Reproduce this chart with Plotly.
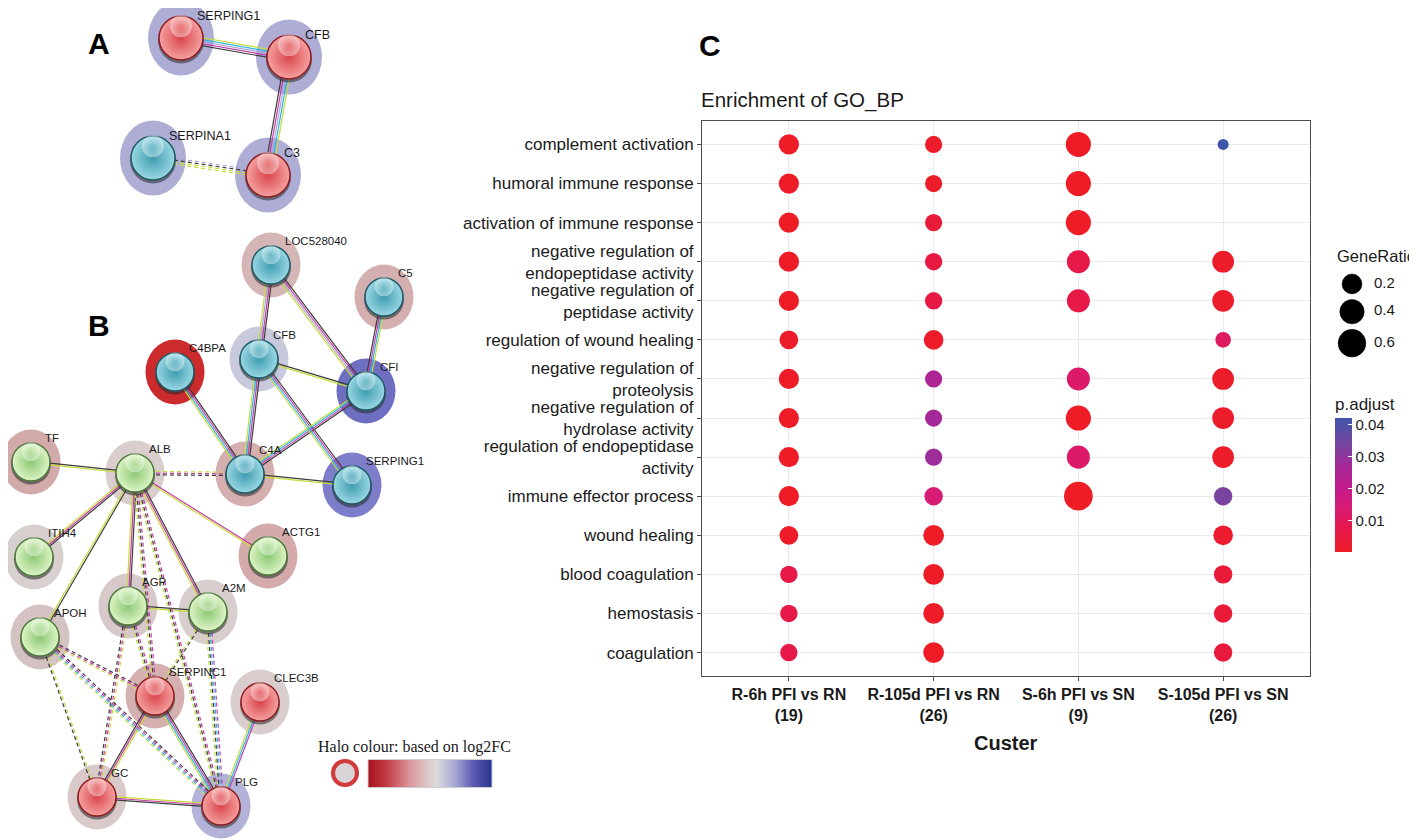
import numpy as np
import plotly.graph_objects as go

W, H = 1417, 840          # browser window
OFF = 8                   # default page margin around the plot div
FW, FH = W - OFF, H - OFF  # figure size
FONT = "Liberation Sans, Arial, sans-serif"


def pxx(p):
    return (p - OFF) / FW


def pxy(p):
    return 1 - (p - OFF) / FH


# ---------------- Panel C data: GO_BP enrichment ----------------
terms = ["complement activation", "humoral immune response", "activation of immune response",
         "negative regulation of<br>endopeptidase activity", "negative regulation of<br>peptidase activity",
         "regulation of wound healing", "negative regulation of<br>proteolysis",
         "negative regulation of<br>hydrolase activity", "regulation of endopeptidase<br>activity",
         "immune effector process", "wound healing", "blood coagulation", "hemostasis", "coagulation"]
clusters = ["R-6h PFI vs RN<br>(19)", "R-105d PFI vs RN<br>(26)", "S-6h PFI vs SN<br>(9)", "S-105d PFI vs SN<br>(26)"]

generatio_r6h = [0.21, 0.21, 0.21, 0.21, 0.21, 0.16, 0.21, 0.21, 0.21, 0.21, 0.16, 0.12, 0.12, 0.12]
generatio_r105d = [0.115, 0.115, 0.115, 0.12, 0.12, 0.19, 0.115, 0.115, 0.115, 0.15, 0.23, 0.23, 0.23, 0.23]
generatio_s6h = [0.44, 0.44, 0.44, 0.33, 0.33, None, 0.33, 0.44, 0.33, 0.67, None, None, None, None]
generatio_s105d = [0.038, None, None, 0.27, 0.27, 0.08, 0.27, 0.27, 0.27, 0.15, 0.19, 0.15, 0.15, 0.15]

padj_r6h = [0.0003, 0.0003, 0.0003, 0.0005, 0.0005, 0.001, 0.0005, 0.0005, 0.0005, 0.0003, 0.001, 0.007, 0.007, 0.007]
padj_r105d = [0.001, 0.001, 0.004, 0.006, 0.006, 0.001, 0.025, 0.027, 0.028, 0.014, 0.0005, 0.0005, 0.0005, 0.0005]
padj_s6h = [0.0002, 0.0002, 0.0002, 0.007, 0.007, None, 0.012, 0.0005, 0.012, 0.0001, None, None, None, None]
padj_s105d = [0.042, None, None, 0.001, 0.001, 0.011, 0.001, 0.001, 0.001, 0.033, 0.002, 0.004, 0.004, 0.005]

legend_ratios = [0.2, 0.4, 0.6]
padj_ticks = [0.01, 0.02, 0.03, 0.04]

# ---------------- Panels A/B data: STRING networks (layout positions of nodes) ----------------
a_nodes = ["SERPING1", "CFB", "SERPINA1", "C3"]
a_x = [181, 289, 153, 268]
a_y = [38, 57, 158, 175]
a_ball = ["red", "red", "teal", "red"]
a_halo = ["#ADADD5", "#ADADD5", "#ADADD5", "#ADADD5"]

b_nodes = ["LOC528040", "C5", "CFB", "C4BPA", "CFI", "TF", "ALB", "C4A", "SERPING1", "ITIH4",
           "ACTG1", "AGP", "A2M", "APOH", "SERPINC1", "CLEC3B", "GC", "PLG"]
b_x = [271, 384, 259, 175, 366, 31, 135, 245, 352, 34, 268, 128, 208, 40, 155, 260, 97, 221]
b_y = [265, 297, 359, 372, 391, 462, 473, 474, 485, 557, 556, 606, 612, 637, 696, 702, 797, 806]
b_ball = ["teal", "teal", "teal", "teal", "teal", "green", "green", "teal", "teal", "green",
          "green", "green", "green", "green", "red", "red", "red", "red"]
b_halo = ["#D5B6B6", "#D3AFAF", "#C9C9DD", "#CC2B2E", "#6F6FC2", "#D2AAAA", "#D9CDCD", "#D5AFAF",
          "#7D7DC9", "#D8CFCF", "#D4AAAA", "#D7C9C9", "#D8CECE", "#D5C3C3", "#D5B0B0", "#D9CDCD",
          "#D9C9C9", "#B3B3D9"]

Y, C, M, K, L = "#C5DC3A", "#29B5E8", "#C83AA8", "#3C3C3C", "#A6A6D8"
a_edges = [("SERPING1", "CFB", [Y, C, L, M, K], False),
           ("CFB", "C3", [Y, C, L, M, K], False),
           ("SERPINA1", "C3", [L, K, Y, Y], True)]
b_edges = [("LOC528040", "CFB", [K, M, L, Y], False),
           ("LOC528040", "CFI", [K, M, L, Y], False),
           ("C5", "CFI", [Y, C, M, K], False),
           ("CFB", "CFI", [K, Y], False),
           ("CFB", "C4A", [K, M, C, Y], False),
           ("CFB", "SERPING1", [K, M, C, Y], False),
           ("C4BPA", "C4A", [K, M, C, Y], False),
           ("CFI", "C4A", [K, M, C, Y], False),
           ("C4A", "SERPING1", [K, Y], False),
           ("TF", "ALB", [K, Y], False),
           ("ALB", "C4A", [Y, M, K], True),
           ("ALB", "ITIH4", [K, M, Y], False),
           ("ALB", "ACTG1", [M, Y], False),
           ("ALB", "APOH", [K, Y], False),
           ("ALB", "AGP", [K, M, Y], False),
           ("ALB", "A2M", [K, M, Y], False),
           ("ALB", "SERPINC1", [M, K, Y], True),
           ("ALB", "PLG", [M, K, Y], True),
           ("AGP", "A2M", [K, Y], False),
           ("AGP", "SERPINC1", [M, K, Y], True),
           ("AGP", "GC", [Y, M, K], True),
           ("A2M", "SERPINC1", [K, Y], True),
           ("A2M", "PLG", [M, C, K, Y], True),
           ("APOH", "SERPINC1", [K, M, Y], True),
           ("APOH", "PLG", [K, M, C, Y], True),
           ("APOH", "GC", [Y, K], True),
           ("SERPINC1", "GC", [Y, M, K], False),
           ("SERPINC1", "PLG", [K, M, C, Y], False),
           ("CLEC3B", "PLG", [M, C, Y], False),
           ("GC", "PLG", [Y, M, K], False)]

halo_scale = [[0, "#A80F1E"], [0.15, "#C23A45"], [0.35, "#DC9CA0"], [0.55, "#DCDCDC"],
              [0.7, "#A9A9D6"], [0.85, "#5A5AB2"], [1, "#27348B"]]
padj_scale = [[0, "#EE1C25"], [0.17, "#E6194A"], [0.33, "#D81B75"], [0.48, "#C21A8D"],
              [0.64, "#A52898"], [0.79, "#7A43A0"], [1, "#3F55A8"]]

ball_style = {
    "red": dict(center="#F5A0A0", edge="#D9454B", line="#8E1E22"),
    "teal": dict(center="#9AD7E3", edge="#3D9CB0", line="#1F5B66"),
    "green": dict(center="#DDF4C6", edge="#8DC874", line="#4E7A3D"),
}

fig = go.Figure()

# ---------------- Panel C dot plot ----------------
ratios = [generatio_r6h, generatio_r105d, generatio_s6h, generatio_s105d]
padjs = [padj_r6h, padj_r105d, padj_s6h, padj_s105d]
xs, ys, gr, pa = [], [], [], []
for ci in range(len(clusters)):
    for ti in range(len(terms)):
        if ratios[ci][ti] is not None:
            xs.append(ci); ys.append(ti); gr.append(ratios[ci][ti]); pa.append(padjs[ci][ti])
vmin, vmax = min(gr), max(gr)
DMIN, DMAX = 11.0, 28.7


def size_of(v):
    return DMIN + (DMAX - DMIN) * np.sqrt((np.asarray(v, float) - vmin) / (vmax - vmin))


fig.add_trace(go.Scatter(
    x=xs, y=ys, mode="markers", xaxis="x", yaxis="y", hoverinfo="skip", showlegend=False,
    marker=dict(size=size_of(gr), color=pa, colorscale=padj_scale, cmin=min(pa), cmax=max(pa),
                line=dict(width=0), opacity=1,
                colorbar=dict(title=dict(text="p.adjust", side="top", font=dict(size=17, family=FONT, color="#1a1a1a")),
                              x=pxx(1335), xanchor="left", xpad=0, y=pxy(552), yanchor="bottom", ypad=0,
                              len=158, lenmode="pixels", thickness=17, outlinewidth=0,
                              tickvals=padj_ticks, ticks="inside", ticklen=4, tickcolor="white",
                              tickfont=dict(size=15, family=FONT, color="#1a1a1a"))),
))


# ---------------- Networks (overlay axes in page-pixel units) ----------------
def add_network(names, nx, ny, balls, halos, edges, halo_w, halo_h, ball_d, spacing, label_size, label_dx, label_dy):
    pos = {n: (x, y) for n, x, y in zip(names, nx, ny)}
    shapes = []
    for x, y, hc in zip(nx, ny, halos):
        shapes.append(dict(type="circle", xref="x2", yref="y2", layer="below",
                           x0=x - halo_w / 2, x1=x + halo_w / 2, y0=y - halo_h / 2, y1=y + halo_h / 2,
                           fillcolor=hc, line=dict(width=0)))
    groups = {}
    for a, b, cols, dashed in edges:
        (x0, y0), (x1, y1) = pos[a], pos[b]
        dx, dy = x1 - x0, y1 - y0
        ln = np.hypot(dx, dy)
        px, py = -dy / ln, dx / ln
        n = len(cols)
        for i, col in enumerate(cols):
            off = (i - (n - 1) / 2) * spacing
            g = groups.setdefault((col, dashed), ([], []))
            g[0].extend([x0 + px * off, x1 + px * off, None])
            g[1].extend([y0 + py * off, y1 + py * off, None])
    for (col, dashed), (gx, gy) in groups.items():
        fig.add_trace(go.Scatter(x=gx, y=gy, mode="lines", xaxis="x2", yaxis="y2", hoverinfo="skip",
                                 showlegend=False,
                                 line=dict(color=col, width=1.2, dash="4px,3px" if dashed else "solid")))
    fig.add_trace(go.Scatter(x=nx, y=[y + 2.5 for y in ny], mode="markers", xaxis="x2", yaxis="y2",
                             hoverinfo="skip", showlegend=False,
                             marker=dict(size=ball_d + 2, color="rgba(40,40,40,0.55)", line=dict(width=0))))
    for kind in ["red", "teal", "green"]:
        idx = [i for i, b in enumerate(balls) if b == kind]
        if not idx:
            continue
        st = ball_style[kind]
        fig.add_trace(go.Scatter(
            x=[nx[i] for i in idx], y=[ny[i] for i in idx], mode="markers", xaxis="x2", yaxis="y2",
            hoverinfo="skip", showlegend=False,
            marker=dict(size=ball_d, color=st["center"], gradient=dict(type="radial", color=st["edge"]),
                        line=dict(color=st["line"], width=1.5))))
    fig.add_trace(go.Scatter(x=nx, y=[y - ball_d * 0.27 for y in ny], mode="markers", xaxis="x2", yaxis="y2",
                             hoverinfo="skip", showlegend=False,
                             marker=dict(size=ball_d * 0.5, color="rgba(255,255,255,0.42)",
                                         gradient=dict(type="radial", color="rgba(255,255,255,0.0)"),
                                         line=dict(width=0))))
    fig.add_trace(go.Scatter(x=[x + label_dx for x in nx], y=[y + label_dy for y in ny], text=names,
                             mode="text", textposition="middle right", xaxis="x2", yaxis="y2",
                             hoverinfo="skip", showlegend=False,
                             textfont=dict(size=label_size, family=FONT, color="#1a1a1a")))
    return shapes


shapes = []
shapes += add_network(a_nodes, a_x, a_y, a_ball, a_halo, a_edges, 66, 75, 44, 2.0, 12.5, 16, -21)
shapes += add_network(b_nodes, b_x, b_y, b_ball, b_halo, b_edges, 59, 65, 38, 1.7, 11.5, 14, -23)

# halo legend: swatch + gradient bar
fig.add_trace(go.Scatter(x=[345], y=[773], mode="markers", xaxis="x2", yaxis="y2", hoverinfo="skip",
                         showlegend=False,
                         marker=dict(size=24, color="#D9D4D8", line=dict(color="#D23A3A", width=4))))
fig.add_trace(go.Scatter(
    x=[345, 345], y=[773, 773], mode="markers", xaxis="x2", yaxis="y2", hoverinfo="skip", showlegend=False,
    marker=dict(size=2, opacity=0, color=[0, 1], colorscale=halo_scale, cmin=0, cmax=1,
                colorbar=dict(orientation="h", x=pxx(430), xanchor="center", xpad=0, y=pxy(774),
                              yanchor="middle", ypad=0, len=124, lenmode="pixels", thickness=28,
                              showticklabels=False, ticks="", outlinewidth=1, outlinecolor="#cfcfcf"))))

# GeneRatio size legend
leg_d = size_of(legend_ratios)
leg_y = [284.0]
for i in range(1, len(leg_d)):
    leg_y.append(leg_y[-1] + (leg_d[i - 1] + leg_d[i]) / 2 + 5.5)
fig.add_trace(go.Scatter(x=[1352] * len(leg_d), y=leg_y, mode="markers", xaxis="x2", yaxis="y2",
                         hoverinfo="skip", showlegend=False,
                         marker=dict(size=leg_d, color="#000000", opacity=1, line=dict(width=0.5, color="#000000"))))
fig.add_trace(go.Scatter(x=[1374] * len(leg_d), y=leg_y, text=[f"{v:.1f}" for v in legend_ratios],
                         mode="text", textposition="middle right", xaxis="x2", yaxis="y2",
                         hoverinfo="skip", showlegend=False,
                         textfont=dict(size=15, family=FONT, color="#1a1a1a")))

annotations = [
    dict(text="<b>A</b>", x=86, y=43, xref="x2", yref="y2", showarrow=False, xanchor="left", yanchor="middle",
         font=dict(size=30, family=FONT, color="black")),
    dict(text="<b>B</b>", x=86, y=325, xref="x2", yref="y2", showarrow=False, xanchor="left", yanchor="middle",
         font=dict(size=30, family=FONT, color="black")),
    dict(text="<b>C</b>", x=697, y=45, xref="x2", yref="y2", showarrow=False, xanchor="left", yanchor="middle",
         font=dict(size=30, family=FONT, color="black")),
    dict(text="Enrichment of GO_BP", x=699, y=100, xref="x2", yref="y2", showarrow=False, xanchor="left",
         yanchor="middle", font=dict(size=20.5, family=FONT, color="#1a1a1a")),
    dict(text="<b>Custer</b>", x=1006, y=743, xref="x2", yref="y2", showarrow=False, xanchor="center",
         yanchor="middle", font=dict(size=20, family=FONT, color="#1a1a1a")),
    dict(text="GeneRatio", x=1335, y=256, xref="x2", yref="y2", showarrow=False, xanchor="left",
         yanchor="middle", font=dict(size=16.5, family=FONT, color="#1a1a1a")),
    dict(text="Halo colour: based on log2FC", x=316, y=747, xref="x2", yref="y2", showarrow=False,
         xanchor="left", yanchor="middle", font=dict(size=16, family="Liberation Serif, Times New Roman, serif",
                                                     color="#1a1a1a")),
]

fig.update_layout(
    width=FW, height=FH, margin=dict(l=0, r=0, t=0, b=0),
    paper_bgcolor="white", plot_bgcolor="rgba(0,0,0,0)", showlegend=False,
    xaxis=dict(domain=[pxx(702), pxx(1310)], range=[-0.6, 3.6], tickvals=list(range(len(clusters))),
               ticktext=clusters, showgrid=True, gridcolor="#EBEBEB", gridwidth=1, zeroline=False,
               showline=True, linecolor="#4D4D4D", linewidth=1, mirror=True,
               ticks="outside", ticklen=4, tickcolor="#4D4D4D",
               tickfont=dict(size=16, family=FONT, color="#1a1a1a", weight="bold")),
    yaxis=dict(domain=[pxy(676), pxy(121)], range=[13.6, -0.6], tickvals=list(range(len(terms))),
               ticktext=terms, showgrid=True, gridcolor="#EBEBEB", gridwidth=1, zeroline=False,
               showline=True, linecolor="#4D4D4D", linewidth=1, mirror=True,
               ticks="outside", ticklen=4, tickcolor="#4D4D4D",
               tickfont=dict(size=17, family=FONT, color="#1a1a1a")),
    xaxis2=dict(domain=[0, 1], range=[OFF, OFF + FW], visible=False, anchor="y2"),
    yaxis2=dict(domain=[0, 1], range=[OFF + FH, OFF], visible=False, anchor="x2"),
    shapes=shapes, annotations=annotations,
)

fig.write_html("out.html")
